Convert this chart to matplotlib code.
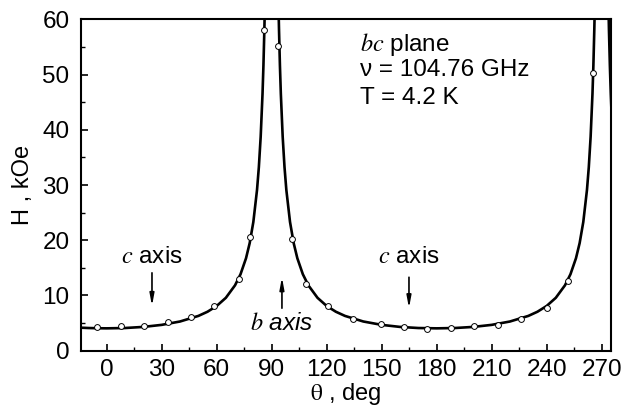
import matplotlib
matplotlib.use("Agg")
import matplotlib.pyplot as plt
from matplotlib.ticker import MultipleLocator

plt.rcParams['font.family'] = ['Liberation Sans', 'DejaVu Sans']
plt.rcParams['mathtext.fontset'] = 'stix'

# measured points (open circles)
theta_pts = [-5.1, 7.6, 20.3, 33.3, 45.8, 58.7, 72.0, 78.0, 86.0, 93.3, 101.2, 108.7,
             120.9, 134.5, 149.5, 162.2, 174.7, 187.8, 200.6, 213.6, 226.0, 240.0, 251.8, 265.1]
H_pts = [4.29, 4.42, 4.53, 5.2, 6.05, 8.1, 12.98, 20.6, 58.0, 55.1, 20.17, 12.08,
         8.09, 5.74, 4.78, 4.24, 3.93, 4.11, 4.47, 4.71, 5.74, 7.68, 12.67, 50.2]

# fitted curve, three branches
theta_fit1 = [-14, -10, -5, 0, 10, 20, 30, 40, 50, 55, 60, 65, 70, 73, 76, 78, 80, 82, 83,
              84, 85, 85.5, 86, 86.2, 86.5]
H_fit1 = [4.17, 4.11, 4.07, 4.05, 4.11, 4.31, 4.68, 5.29, 6.30, 7.06, 8.10, 9.58, 11.84,
          13.85, 16.74, 19.48, 23.32, 29.10, 33.23, 38.75, 46.47, 51.6, 58.06, 61.1, 66.0]
theta_fit2 = [93.5, 93.8, 94, 94.5, 95, 96, 97, 98, 100, 102, 104, 107, 110, 115, 120, 125,
              130, 140, 150, 160, 170, 180, 190, 200, 210, 220, 230, 235, 240, 245, 250,
              253, 256, 258, 260, 262, 263, 264, 265, 265.5, 266, 266.2, 266.5]
H_fit2 = [66.0, 61.1, 58.06, 51.6, 46.47, 38.75, 33.23, 29.10, 23.32, 19.48, 16.74, 13.85,
          11.84, 9.58, 8.10, 7.06, 6.30, 5.29, 4.68, 4.31, 4.11, 4.05, 4.11, 4.31, 4.68,
          5.29, 6.30, 7.06, 8.10, 9.58, 11.84, 13.85, 16.74, 19.48, 23.32, 29.10, 33.23,
          38.75, 46.47, 51.6, 58.06, 61.1, 66.0]
theta_fit3 = [273.5, 274.0, 274.5, 275.0, 275.5]
H_fit3 = [66.0, 58.06, 51.6, 46.47, 42.3]

x_ticks = [0, 30, 60, 90, 120, 150, 180, 210, 240, 270]
y_ticks = [0, 10, 20, 30, 40, 50, 60]

fig = plt.figure(figsize=(6.23, 4.09), dpi=100)
ax = fig.add_axes([0.1295, 0.1425, 0.8512, 0.8103])

for tx, hy in ((theta_fit1, H_fit1), (theta_fit2, H_fit2), (theta_fit3, H_fit3)):
    ax.plot(tx, hy, color='black', lw=1.9, solid_capstyle='butt', zorder=2)
ax.plot(theta_pts, H_pts, linestyle='none', marker='o', markersize=4.2,
        markerfacecolor='white', markeredgecolor='black', markeredgewidth=0.7, zorder=3)

ax.set_xlim(-14.2, 275.1)
ax.set_ylim(0, 60)
ax.set_xticks(x_ticks)
ax.set_yticks(y_ticks)
ax.xaxis.set_minor_locator(MultipleLocator(15))
ax.yaxis.set_minor_locator(MultipleLocator(5))
ax.tick_params(axis='both', which='major', direction='in', length=5, width=1.2,
               labelsize=17.5, top=False, right=False)
ax.tick_params(axis='both', which='minor', direction='in', length=3, width=1.0,
               top=False, right=False)
ax.tick_params(axis='x', pad=6)
ax.tick_params(axis='y', pad=8)
for s in ax.spines.values():
    s.set_linewidth(1.5)

ax.set_ylabel('H , kOe', fontsize=17, labelpad=6)
ax.set_xlabel(r'$\mathrm{\theta}$ , deg', fontsize=17, labelpad=0)

fs = 17.5
ax.text(138, 54.3, r'$\mathit{bc}$ plane', fontsize=fs, ha='left', va='baseline')
ax.text(138, 49.7, 'ν = 104.76 GHz', fontsize=fs, ha='left', va='baseline')
ax.text(138, 44.6, 'T = 4.2 K', fontsize=fs, ha='left', va='baseline')

arrow_kw = dict(arrowstyle='-|>,head_length=0.7,head_width=0.13', color='black', lw=1.2,
                shrinkA=0, shrinkB=0)
ax.annotate('', xy=(24.7, 8.1), xytext=(24.7, 14.1), arrowprops=arrow_kw)
ax.text(24.7, 17.0, r'$\mathit{c}$ axis', fontsize=fs, ha='center', va='center')
ax.annotate('', xy=(164.9, 7.7), xytext=(164.9, 13.3), arrowprops=arrow_kw)
ax.text(164.9, 17.0, r'$\mathit{c}$ axis', fontsize=fs, ha='center', va='center')
ax.annotate('', xy=(95.6, 13.3), xytext=(95.6, 7.7), arrowprops=arrow_kw)
ax.text(95.6, 4.9, r'$\mathit{b}$ axis', fontsize=fs, ha='center', va='center', style='italic')

fig.savefig('out.png', dpi=100)
